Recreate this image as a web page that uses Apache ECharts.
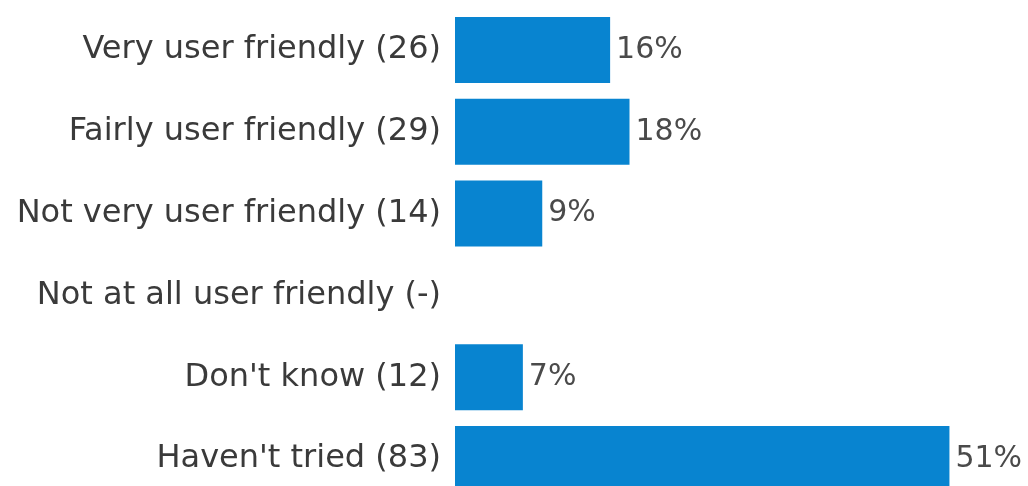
<!DOCTYPE html>
<html>
<head>
<meta charset="utf-8">
<script src="https://cdn.jsdelivr.net/npm/echarts@6/dist/echarts.min.js"></script>
<style>
  html, body { margin: 0; padding: 0; background: #ffffff; }
  #chart { width: 1028px; height: 486px; }
</style>
</head>
<body>
<div id="chart"></div>
<script>
// Survey answers, response counts and share of respondents (%)
const answers = [
  'Very user friendly',
  'Fairly user friendly',
  'Not very user friendly',
  'Not at all user friendly',
  "Don't know",
  "Haven't tried"
];
const counts = [26, 29, 14, null, 12, 83];
const percents = [16, 18, 9, null, 7, 51];

const categories = answers.map((a, i) =>
  a + ' (' + (counts[i] == null ? '-' : counts[i]) + ')'
);

const chart = echarts.init(document.getElementById('chart'), null, { renderer: 'canvas' });

chart.setOption({
  animation: false,
  backgroundColor: '#ffffff',
  grid: {
    left: 455,
    top: 9,
    width: 572,
    height: 491,
    outerBoundsMode: 'none',
    containLabel: false
  },
  xAxis: {
    type: 'value',
    min: 0,
    max: 59,
    show: false
  },
  yAxis: {
    type: 'category',
    inverse: true,
    data: categories,
    axisLine: { show: false },
    axisTick: { show: false },
    splitLine: { show: false },
    axisLabel: {
      margin: 14,
      fontFamily: 'DejaVu Sans',
      fontSize: 32,
      color: '#3a3a3a'
    }
  },
  series: [{
    type: 'bar',
    data: percents.map(v => (v == null ? '-' : v)),
    barWidth: 66,
    itemStyle: { color: '#0884d0' },
    label: {
      show: true,
      position: 'right',
      distance: 6,
      formatter: p => p.value + '%',
      fontFamily: 'DejaVu Sans',
      fontSize: 30,
      color: '#4a4a4a'
    }
  }]
});
</script>
</body>
</html>
